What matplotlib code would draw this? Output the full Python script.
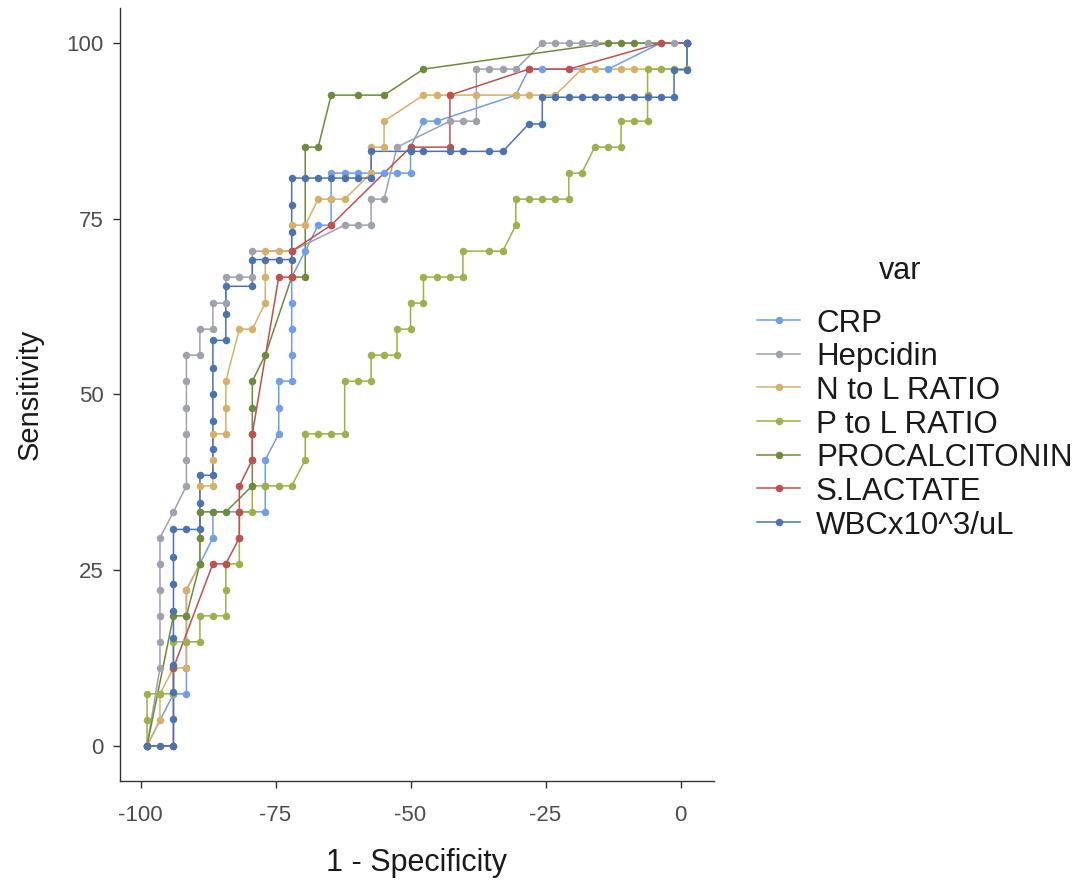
import matplotlib
matplotlib.use("Agg")
import matplotlib.pyplot as plt
from matplotlib.lines import Line2D

plt.rcParams['font.family'] = ['Liberation Sans', 'DejaVu Sans']
plt.rcParams['axes.unicode_minus'] = False

# --- data (x = 1 - Specificity, y = Sensitivity) ---
crp_x = [-98.8, -93.9, -91.5, -91.5, -91.5, -91.5, -91.5, -89.0, -86.6, -86.6, -81.7, -76.9, -76.9, -76.9,
         -74.4, -74.4, -74.4, -72.0, -72.0, -72.0, -72.0, -72.0, -69.5, -67.1, -64.7, -64.7, -64.7, -62.2,
         -59.8, -57.3, -54.9, -52.5, -50.0, -50.0, -47.6, -45.1, -30.5, -28.1, -25.6, -13.4, -3.7, 1.2]
crp_y = [0, 7.4, 7.4, 11.1, 14.8, 18.5, 22.2, 25.9, 29.6, 33.3, 33.3, 33.3, 37.0, 40.7, 44.4, 48.1, 51.9,
         51.9, 55.6, 59.3, 63.0, 66.7, 70.4, 74.1, 74.1, 77.8, 81.5, 81.5, 81.5, 81.5, 81.5, 81.5, 81.5,
         85.2, 88.9, 88.9, 92.6, 96.3, 96.3, 96.3, 100, 100]

hep_x = [-98.8, -96.4, -96.4, -96.4, -96.4, -96.4, -96.4, -93.9, -91.5, -91.5, -91.5, -91.5, -91.5, -91.5,
         -89.0, -89.0, -86.6, -86.6, -84.2, -84.2, -81.7, -79.3, -79.3, -72.0, -62.2, -59.8, -57.3, -57.3,
         -54.9, -52.5, -42.7, -40.3, -37.8, -37.8, -35.4, -32.9, -30.5, -25.6, -23.2, -20.7, -18.3, -15.9,
         -6.1, -1.2, 1.2]
hep_y = [0, 11.1, 14.8, 18.5, 22.2, 25.9, 29.6, 33.3, 37.0, 40.7, 44.4, 48.1, 51.9, 55.6, 55.6, 59.3,
         59.3, 63.0, 63.0, 66.7, 66.7, 66.7, 70.4, 70.4, 74.1, 74.1, 74.1, 77.8, 77.8, 85.2, 88.9, 88.9,
         88.9, 96.3, 96.3, 96.3, 96.3, 100, 100, 100, 100, 100, 100, 100, 100]

nl_x = [-98.8, -96.4, -96.4, -93.9, -91.5, -91.5, -91.5, -89.0, -89.0, -89.0, -89.0, -86.6, -86.6, -86.6,
        -84.2, -84.2, -84.2, -81.7, -79.3, -76.9, -76.9, -76.9, -74.4, -72.0, -72.0, -69.5, -67.1, -64.7,
        -62.2, -57.3, -57.3, -54.9, -54.9, -47.6, -45.1, -42.7, -37.8, -30.5, -28.1, -23.2, -18.3, -15.9,
        -11.0, -8.6, 1.2, 1.2]
nl_y = [0, 3.7, 7.4, 11.1, 11.1, 18.5, 22.2, 25.9, 29.6, 33.3, 37.0, 37.0, 40.7, 44.4, 44.4, 48.1, 51.9,
        59.3, 59.3, 63.0, 66.7, 70.4, 70.4, 70.4, 74.1, 74.1, 77.8, 77.8, 77.8, 81.5, 85.2, 85.2, 88.9,
        92.6, 92.6, 92.6, 92.6, 92.6, 92.6, 92.6, 96.3, 96.3, 96.3, 96.3, 96.3, 100]

pl_x = [-98.8, -98.8, -98.8, -96.4, -93.9, -93.9, -93.9, -91.5, -89.0, -89.0, -86.6, -84.2, -84.2, -84.2,
        -81.7, -81.7, -81.7, -79.3, -79.3, -76.9, -74.4, -72.0, -69.5, -69.5, -67.1, -64.7, -62.2, -62.2,
        -59.8, -57.3, -57.3, -54.9, -52.5, -52.5, -50.0, -50.0, -47.6, -47.6, -45.1, -42.7, -40.3, -40.3,
        -35.4, -32.9, -30.5, -30.5, -28.1, -25.6, -23.2, -20.7, -20.7, -18.3, -15.9, -13.4, -11.0, -11.0,
        -8.6, -6.1, -6.1, -6.1, -3.7, -1.2, 1.2, 1.2]
pl_y = [0, 3.7, 7.4, 7.4, 7.4, 11.1, 14.8, 14.8, 14.8, 18.5, 18.5, 18.5, 22.2, 25.9, 25.9, 29.6, 33.3,
        33.3, 37.0, 37.0, 37.0, 37.0, 40.7, 44.4, 44.4, 44.4, 44.4, 51.9, 51.9, 51.9, 55.6, 55.6, 55.6,
        59.3, 59.3, 63.0, 63.0, 66.7, 66.7, 66.7, 66.7, 70.4, 70.4, 70.4, 74.1, 77.8, 77.8, 77.8, 77.8,
        77.8, 81.5, 81.5, 85.2, 85.2, 85.2, 88.9, 88.9, 88.9, 92.6, 96.3, 96.3, 96.3, 96.3, 100]

pct_x = [-98.8, -93.9, -91.5, -89.0, -89.0, -89.0, -86.6, -84.2, -79.3, -79.3, -79.3, -79.3, -79.3,
         -76.9, -72.0, -69.5, -69.5, -67.1, -64.7, -59.8, -54.9, -47.6, -13.4, -11.0, -8.6, 1.2]
pct_y = [0, 18.5, 18.5, 25.9, 29.6, 33.3, 33.3, 33.3, 37.0, 40.7, 44.4, 48.1, 51.9, 55.6, 66.7, 66.7,
         85.2, 85.2, 92.6, 92.6, 92.6, 96.3, 100, 100, 100, 100]

lac_x = [-98.8, -93.9, -93.9, -86.6, -84.2, -81.7, -81.7, -81.7, -79.3, -79.3, -74.4, -72.0, -72.0,
         -64.7, -50.0, -42.7, -42.7, -28.1, -20.7, -3.7, 1.2]
lac_y = [0, 0, 11.1, 25.9, 25.9, 29.6, 33.3, 37.0, 40.7, 44.4, 66.7, 66.7, 70.4, 74.1, 85.2, 85.2, 92.6,
         96.3, 96.3, 100, 100]

wbc_x = [-98.8, -96.4, -93.9, -93.9, -93.9, -93.9, -93.9, -93.9, -93.9, -93.9, -93.9, -91.5, -89.0,
         -89.0, -89.0, -86.6, -86.6, -86.6, -86.6, -86.6, -86.6, -84.2, -84.2, -84.2, -79.3, -79.3, -76.9,
         -74.4, -72.0, -72.0, -72.0, -72.0, -69.5, -67.1, -64.7, -62.2, -59.8, -57.3, -57.3, -50.0, -47.6,
         -42.7, -40.3, -35.4, -32.9, -28.1, -25.6, -25.6, -23.2, -20.7, -18.3, -15.9, -13.4, -11.0, -8.6,
         -6.1, -3.7, -1.2, -1.2, 1.2, 1.2]
wbc_y = [0, 0, 0, 3.8, 7.7, 11.5, 15.4, 19.2, 23.1, 26.9, 30.8, 30.8, 30.8, 34.6, 38.5, 38.5, 42.3, 46.2,
         50.0, 53.8, 57.7, 57.7, 61.5, 65.4, 65.4, 69.2, 69.2, 69.2, 69.2, 73.1, 76.9, 80.8, 80.8, 80.8,
         80.8, 80.8, 80.8, 80.8, 84.6, 84.6, 84.6, 84.6, 84.6, 84.6, 84.6, 88.5, 88.5, 92.3, 92.3, 92.3,
         92.3, 92.3, 92.3, 92.3, 92.3, 92.3, 92.3, 92.3, 96.2, 96.2, 100]

names = ["CRP", "Hepcidin", "N to L RATIO", "P to L RATIO", "PROCALCITONIN", "S.LACTATE", "WBCx10^3/uL"]
colors = ["#6f9fe6", "#9ea2ac", "#d6b06a", "#9db04a", "#6d8a3e", "#c0504d", "#4a73b0"]
series = [(crp_x, crp_y), (hep_x, hep_y), (nl_x, nl_y), (pl_x, pl_y),
          (pct_x, pct_y), (lac_x, lac_y), (wbc_x, wbc_y)]

W, H = 1077, 882
fig = plt.figure(figsize=(W / 100, H / 100), dpi=100)
ax = fig.add_axes([120 / W, 1 - 781 / H, 594 / W, 773 / H])

# lines first, then points on top (like ggplot layers)
for (x, y), c in zip(series, colors):
    ax.plot(x, y, color=c, lw=1.1, zorder=2)
for (x, y), c in zip(series, colors):
    ax.plot(x, y, ls='none', marker='o', ms=5.4, color=c, mec='none', zorder=3)

ax.set_xlim(-103.8, 6.2)
ax.set_ylim(-5, 105)
ax.set_xticks([-100, -75, -50, -25, 0])
ax.set_yticks([0, 25, 50, 75, 100])
ax.set_xlabel("1 - Specificity", fontsize=22, color='#1a1a1a', labelpad=16)
ax.set_ylabel("Sensitivity", fontsize=21, color='#1a1a1a', labelpad=16)

for s in ['top', 'right']:
    ax.spines[s].set_visible(False)
for s in ['left', 'bottom']:
    ax.spines[s].set_color('#333333')
    ax.spines[s].set_linewidth(1.0)
ax.tick_params(axis='both', labelsize=16, labelcolor='#4d4d4d', color='#333333',
               length=5, width=1.0, pad=7)
ax.tick_params(axis='x', pad=12)

# legend drawn by hand so the row spacing matches the reference
fig.text(900 / W, 1 - 271 / H, "var", fontsize=22, color='#1a1a1a', ha='center', va='center')
for i, (name, c) in enumerate(zip(names, colors)):
    yy = 1 - (320 + 33.7 * i) / H
    fig.add_artist(Line2D([757 / W, 800 / W], [yy, yy], color=c, lw=1.1, transform=fig.transFigure))
    fig.add_artist(Line2D([778.5 / W], [yy], color=c, marker='o', ms=5.4, mec='none',
                          transform=fig.transFigure))
    fig.text(816 / W, yy, name, fontsize=22.5, color='#1a1a1a', ha='left', va='center_baseline')

fig.savefig("out.png", dpi=100)
